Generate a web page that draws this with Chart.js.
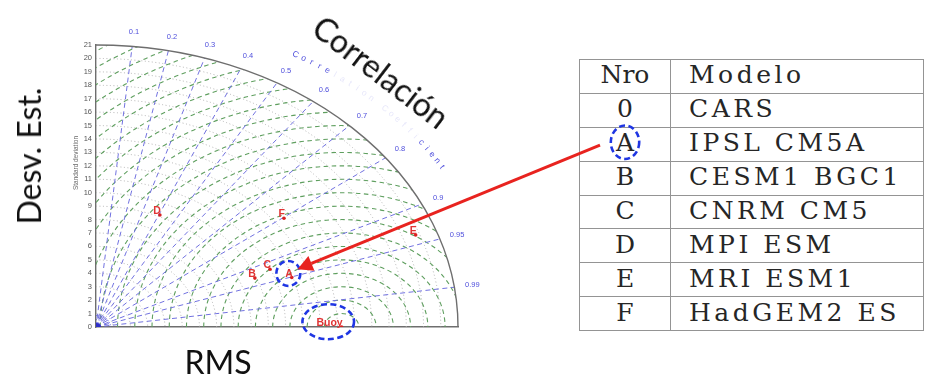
<!DOCTYPE html>
<html>
<head>
<meta charset="utf-8">
<title>Diagrama de Taylor</title>
<script src="https://cdn.jsdelivr.net/npm/chart.js@4.4.0/dist/chart.umd.min.js"></script>
<style>
  html, body { margin: 0; padding: 0; background: #fff; }
  #wrap { position: relative; width: 926px; height: 379px; overflow: hidden; }
  #c { position: absolute; left: 0; top: 0; z-index: 2; }
  #tbl {
    position: absolute; left: 579px; top: 59px; z-index: 1;
    border-collapse: collapse; table-layout: fixed; width: 345px;
    font-family: "DejaVu Serif", serif; font-size: 25px; color: #262626;
  }
  #tbl td {
    border: 1.5px solid #949494; padding: 0 0 2px 0; height: 30.9px;
    line-height: 30px; letter-spacing: 3.5px; white-space: nowrap; overflow: hidden;
  }
  #tbl td.id { width: 90px; text-align: center; letter-spacing: 0; }
  #tbl td.name { padding-left: 18px; }
  .big {
    position: absolute; z-index: 3; white-space: nowrap; line-height: 1;
    font-family: Lato, "Open Sans", sans-serif; font-size: 32px; color: #111;
  }
</style>
</head>
<body>
<div id="wrap">
  <table id="tbl"></table>
  <canvas id="c" width="926" height="379"></canvas>
  <div class="big" style="left:29px;top:156px;transform:translate(-50%,-50%) rotate(-90deg)">Desv. Est.</div>
  <div class="big" style="left:218px;top:362px;transform:translate(-50%,-50%)">RMS</div>
  <div class="big" style="left:381px;top:72px;transform:translate(-50%,-50%) rotate(37.5deg)">Correlación</div>
</div>
<script>
// Model runs: standard deviation and correlation against the buoy record
const modelIds  = ['A', 'B', 'C', 'D', 'E', 'F'];
const modelStd  = [11.94, 9.91, 10.97, 9.13, 19.77, 13.58];
const modelCorr = [0.951, 0.930, 0.920, 0.406, 0.938, 0.803];

// Reference series
const refLabel = 'Buoy';
const refStd = 14.25;

// Axes / grid
const stdMax = 21;
const corrTicks = [0.1, 0.2, 0.3, 0.4, 0.5, 0.6, 0.7, 0.8, 0.9, 0.95, 0.99];
const corrTitle = 'Correlation Coefficient';
const stdTitle = 'Standard deviation';

// Legend table
const tableHeader = ['Nro', 'Modelo'];
const tableIds    = ['0', 'A', 'B', 'C', 'D', 'E', 'F'];
const tableModels = ['CARS', 'IPSL CM5A', 'CESM1 BGC1', 'CNRM CM5', 'MPI ESM', 'MRI ESM1', 'HadGEM2 ES'];

// ---- table ----
const tbl = document.getElementById('tbl');
function addRow(a, b) {
  const tr = document.createElement('tr');
  const t1 = document.createElement('td'); t1.className = 'id'; t1.textContent = a;
  const t2 = document.createElement('td'); t2.className = 'name'; t2.textContent = b;
  tr.appendChild(t1); tr.appendChild(t2); tbl.appendChild(tr);
  return t1;
}
addRow(tableHeader[0], tableHeader[1]);
const idCells = tableIds.map((id, i) => addRow(id, tableModels[i]));

// polar (std, corr) -> cartesian
function toXY(s, c) { return { x: s * c, y: s * Math.sqrt(Math.max(0, 1 - c * c)) }; }
const modelPts = modelStd.map((s, i) => toXY(s, modelCorr[i]));
const refPt = toXY(refStd, 1);

function frame(chart) {
  const xs = chart.scales.x, ys = chart.scales.y;
  const ox = xs.getPixelForValue(0), oy = ys.getPixelForValue(0);
  return { xs, ys, ox, oy, kx: xs.getPixelForValue(1) - ox, ky: oy - ys.getPixelForValue(1) };
}

function dashedEllipse(ctx, cx, cy, rx, ry) {
  ctx.save();
  ctx.strokeStyle = '#1f36e3'; ctx.lineWidth = 2.6; ctx.setLineDash([6, 3.5]);
  ctx.beginPath(); ctx.ellipse(cx, cy, rx, ry, 0, 0, Math.PI * 2); ctx.stroke();
  ctx.restore();
}

const taylorPlugin = {
  id: 'taylor',
  beforeDatasetsDraw(chart) {
    const { ctx } = chart;
    const { xs, ys, ox, oy, kx, ky } = frame(chart);
    const R = stdMax;

    ctx.save();
    ctx.beginPath(); ctx.moveTo(ox, oy);
    ctx.ellipse(ox, oy, R * kx, R * ky, 0, -Math.PI / 2, 0); ctx.closePath(); ctx.clip();

    // standard deviation arcs
    ctx.lineWidth = 1; ctx.strokeStyle = '#b2b2b2'; ctx.setLineDash([1, 2.5]);
    for (let s = 1; s < R; s++) {
      ctx.beginPath(); ctx.ellipse(ox, oy, s * kx, s * ky, 0, -Math.PI / 2, 0); ctx.stroke();
    }
    // centred RMS difference circles around the reference
    const cx = xs.getPixelForValue(refPt.x);
    ctx.strokeStyle = '#5f9f5f'; ctx.lineWidth = 1.1; ctx.setLineDash([4.5, 3.5]);
    for (let r = 1; r <= 26; r++) {
      ctx.beginPath(); ctx.ellipse(cx, oy, r * kx, r * ky, 0, -Math.PI, 0); ctx.stroke();
    }
    // correlation rays
    ctx.strokeStyle = '#7272e0'; ctx.lineWidth = 1; ctx.setLineDash([5, 3.5]);
    corrTicks.forEach(c => {
      const t = Math.acos(c);
      ctx.beginPath(); ctx.moveTo(ox, oy);
      ctx.lineTo(xs.getPixelForValue(R * c), ys.getPixelForValue(R * Math.sin(t)));
      ctx.stroke();
    });
    // cluster of rays and small arcs at the origin
    ctx.setLineDash([1, 1.5]); ctx.strokeStyle = '#5a5ad8';
    [0.55, 0.85].forEach(s => {
      ctx.beginPath(); ctx.ellipse(ox, oy, s * kx, s * ky, 0, -Math.PI / 2, 0); ctx.stroke();
    });
    ctx.setLineDash([]); ctx.fillStyle = '#2f2fc8';
    ctx.beginPath(); ctx.moveTo(ox, oy); ctx.ellipse(ox, oy, 0.3 * kx, 0.3 * ky, 0, -Math.PI / 2, 0); ctx.closePath(); ctx.fill();
    ctx.restore();

    // outer arc
    ctx.save();
    ctx.strokeStyle = '#6e6e6e'; ctx.lineWidth = 1.4;
    ctx.beginPath(); ctx.ellipse(ox, oy, R * kx, R * ky, 0, -Math.PI / 2, 0); ctx.stroke();

    // correlation labels
    ctx.fillStyle = '#4f4fdc'; ctx.font = '7.5px "Liberation Sans", Arial, sans-serif';
    ctx.textAlign = 'center'; ctx.textBaseline = 'middle';
    const rl = R * 1.05;
    corrTicks.forEach(c => {
      const t = Math.acos(c);
      ctx.fillText(String(c), xs.getPixelForValue(rl * c), ys.getPixelForValue(rl * Math.sin(t)));
    });

    // curved caption; its middle runs under the "Correlación" callout and is faint
    ctx.font = '8.5px "Liberation Sans", Arial, sans-serif';
    const rc = R * 1.112, a0 = 60.3 * Math.PI / 180, a1 = 30.7 * Math.PI / 180;
    const n = corrTitle.length;
    for (let i = 0; i < n; i++) {
      const a = a0 + (a1 - a0) * i / (n - 1);
      const px = ox + rc * kx * Math.cos(a), py = oy - rc * ky * Math.sin(a);
      const rot = Math.atan2(ky * Math.cos(a), kx * Math.sin(a));
      ctx.save();
      ctx.globalAlpha = (i < 5 || i >= n - 5) ? 1 : 0.14;
      ctx.translate(px, py); ctx.rotate(rot);
      ctx.fillText(corrTitle[i], 0, 0);
      ctx.restore();
    }

    // y-axis title
    ctx.save();
    ctx.translate(76, 163); ctx.rotate(-Math.PI / 2);
    ctx.fillStyle = '#6a6a6a'; ctx.font = '6.5px "Liberation Sans", Arial, sans-serif';
    ctx.fillText(stdTitle, 0, 0);
    ctx.restore();
    ctx.restore();
  },
  afterDatasetsDraw(chart) {
    const { ctx } = chart;
    const { xs, ys } = frame(chart);
    ctx.save();
    ctx.fillStyle = '#e03434'; ctx.font = 'bold 10.5px "Liberation Sans", Arial, sans-serif';
    ctx.textAlign = 'right'; ctx.textBaseline = 'bottom';
    modelPts.forEach((p, i) => {
      ctx.fillText(modelIds[i], xs.getPixelForValue(p.x) + 1, ys.getPixelForValue(p.y) + 1.5);
    });
    ctx.fillText(refLabel, xs.getPixelForValue(refPt.x) + 1, ys.getPixelForValue(refPt.y) + 1);
    ctx.restore();
  },
  afterDraw(chart) {
    const { ctx } = chart;
    const { xs, ys } = frame(chart);
    const iA = modelIds.indexOf('A');
    const ax = xs.getPixelForValue(modelPts[iA].x), ay = ys.getPixelForValue(modelPts[iA].y);
    const bx = xs.getPixelForValue(refPt.x), by = ys.getPixelForValue(refPt.y);

    // highlight rings on the chart
    dashedEllipse(ctx, ax - 3.4, ay - 4, 12, 12.5);
    dashedEllipse(ctx, bx - 13.4, by - 5.3, 25.8, 17.5);

    // ring on the table entry
    const wrapBox = document.getElementById('wrap').getBoundingClientRect();
    const cell = idCells[tableIds.indexOf('A')].getBoundingClientRect();
    const tx = (cell.left + cell.right) / 2 - wrapBox.left;
    const ty = (cell.top + cell.bottom) / 2 - wrapBox.top - 2;
    dashedEllipse(ctx, tx, ty, 14.2, 16.7);

    // arrow from the table entry to model A
    const x0 = tx - 25, y0 = ty + 3;
    const x1 = ax + 5.8, y1 = ay - 8.3;
    const ang = Math.atan2(y1 - y0, x1 - x0);
    const L = 15, hw = 8;
    const bxh = x1 - L * Math.cos(ang), byh = y1 - L * Math.sin(ang);
    ctx.save();
    ctx.strokeStyle = '#e8231f'; ctx.fillStyle = '#e8231f'; ctx.lineWidth = 3;
    ctx.beginPath(); ctx.moveTo(x0, y0); ctx.lineTo(bxh, byh); ctx.stroke();
    ctx.beginPath();
    ctx.moveTo(x1, y1);
    ctx.lineTo(bxh + hw * Math.sin(ang), byh - hw * Math.cos(ang));
    ctx.lineTo(bxh - hw * Math.sin(ang), byh + hw * Math.cos(ang));
    ctx.closePath(); ctx.fill();
    ctx.restore();
  }
};

new Chart(document.getElementById('c'), {
  type: 'scatter',
  data: {
    datasets: [
      { label: 'Modelos', data: modelPts, pointRadius: 1.8, pointBackgroundColor: '#d82020', pointBorderWidth: 0 },
      { label: refLabel, data: [refPt], pointRadius: 1.8, pointBackgroundColor: '#d82020', pointBorderWidth: 0 }
    ]
  },
  options: {
    responsive: false,
    animation: false,
    layout: { padding: { left: 70, right: 468, top: 45, bottom: 52 } },
    plugins: { legend: { display: false }, tooltip: { enabled: false } },
    scales: {
      x: {
        type: 'linear', min: 0, max: stdMax,
        grid: { display: false, drawTicks: false },
        border: { display: true, color: '#6e6e6e', width: 1.4 },
        ticks: { display: false },
        afterFit(s) { s.height = 0; }
      },
      y: {
        type: 'linear', min: 0, max: stdMax,
        grid: { display: false, drawTicks: false },
        border: { display: true, color: '#6e6e6e', width: 1.4 },
        ticks: {
          stepSize: 1, autoSkip: false, padding: 4, color: '#555',
          font: { size: 7.5, family: '"Liberation Sans", Arial, sans-serif' }
        },
        afterFit(s) { s.width = 26; }
      }
    }
  },
  plugins: [taylorPlugin]
});
</script>
</body>
</html>
